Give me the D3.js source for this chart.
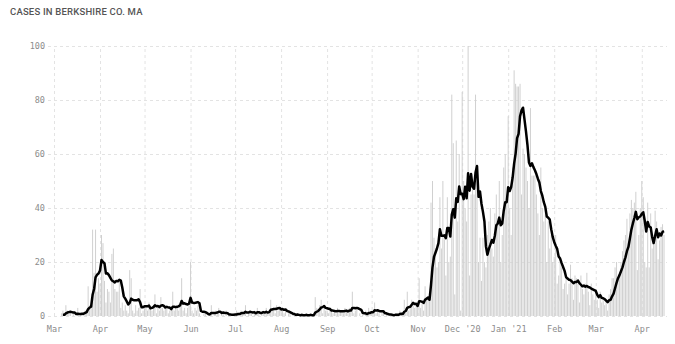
<!DOCTYPE html>
<html lang="en">
<head>
    <meta charset="UTF-8">
    <title>Cases in Berkshire Co. MA</title>
    <script src="https://d3js.org/d3.v7.min.js"></script>
    <style>
        body { margin: 0; background: #fff; }
        .title { font: 500 9.5px Roboto, sans-serif; fill: #555; letter-spacing: 0.2px; }
        .axis text { font: 8.5px "DejaVu Sans Mono", monospace; fill: #8c8c8c; }
        .axis path.domain { display: none; }
        .axis line { stroke: #e3e3e3; stroke-dasharray: 3,3; }
        .bar { fill: #d0d0d0; }
        .avg { fill: none; stroke: #000; stroke-width: 2.5; stroke-linejoin: round; }
    </style>
</head>
<body>
    <svg id="chart" width="675" height="344"></svg>

    <script>
        // daily new cases, one array per month
        const mar20 = [0,0,0,0,0,1,2, 0,4,2,1,1,0,1, 0,0,3,0,1,1,1, 2,2,11,4,3,32,16, 32,9,14];
        const apr20 = [12,30,27,13,5,10,9, 5,23,25,10,9,9,13, 3,5,2,4,2,1,17, 14,2,1,4,2,3,10, 1,2];
        const may20 = [3,4,2,5,3,2,4, 8,1,3,2,7,3,2, 4,3,1,2,3,9,2, 3,4,2,5,14,2,3, 1,3,4];
        const jun20 = [20,2,1,3,2,4,1, 0,0,1,2,0,1,0, 4,0,1,2,1,3,0, 1,1,0,2,0,0,0, 0,1];
        const jul20 = [1,2,1,0,2,1,1, 4,0,1,2,1,0,2, 1,3,1,0,1,2,1, 3,1,2,6,2,3,1, 4,2,3];
        const aug20 = [2,3,1,2,0,1,1, 0,1,0,0,1,0,0, 1,0,0,1,0,0,1, 0,0,7,3,2,4,6, 1,3,2];
        const sep20 = [2,1,3,2,1,2,1, 3,1,2,2,1,3,2, 1,3,2,9,1,2,3, 0,1,0,1,0,2,1, 3,1];
        const oct20 = [2,1,5,1,2,1,0, 2,1,0,1,0,0,0, 1,0,1,1,0,2,1, 0,6,3,9,2,3,6, 5,3,4];
        const nov20 = [3,14,3,5,2,11,7, 6,8,42,50,29,22,18, 20,44,25,50,30,15,44, 20,22,82,64,8,65,35, 60,2];
        const dec20 = [83,50,40,35,100,15,45, 50,45,82,52,20,29,13, 29,20,18,30,35,40,25, 22,38,45,35,50,20,30, 55,60,45];
        const jan21 = [74,40,30,55,91,86,85, 85,86,45,62,60,55,50, 40,77,52,52,52,45,38, 30,55,40,35,40,20,35, 25,30,20];
        const feb21 = [22,30,12,15,20,18,10, 12,14,8,12,19,14,6, 15,14,12,5,15,10,8, 12,16,9,4,12,8,6];
        const mar21 = [10,6,3,9,5,7,4, 6,2,8,10,14,14,18, 20,14,16,20,24,28,30, 36,25,38,43,40,42,46, 17,30,40];
        const apr21 = [50,44,20,18,42,18,38, 25,28,39,35,21,28,33, 34,30];

        const monthLabels = ["Mar", "Apr", "May", "Jun", "Jul", "Aug", "Sep", "Oct", "Nov", "Dec '20", "Jan '21", "Feb", "Mar", "Apr"];
        const yTicks = [0, 20, 40, 60, 80, 100];

        const cases = [].concat(mar20, apr20, may20, jun20, jul20, aug20, sep20, oct20,
                                nov20, dec20, jan21, feb21, mar21, apr21);
        const start = new Date(2020, 2, 1);
        const data = cases.map((v, i) => ({ date: d3.timeDay.offset(start, i), value: v }));

        // 7 day trailing average
        const avg = data.slice(6).map((d, i) => ({
            date: d.date,
            value: d3.mean(cases.slice(i, i + 7))
        }));

        const svg = d3.select("#chart");
        const margin = { top: 46, right: 8, bottom: 28, left: 54 };
        const height = 344 - margin.top - margin.bottom;

        const x = d3.scaleTime()
            .domain([start, d3.timeDay.offset(start, 413)])
            .range([margin.left, 667]);
        const y = d3.scaleLinear().domain([0, 100]).range([margin.top + height, margin.top]);

        svg.append("text")
            .attr("class", "title")
            .attr("x", 10)
            .attr("y", 15)
            .text("CASES IN BERKSHIRE CO. MA");

        // horizontal grid + y labels
        svg.append("g")
            .attr("class", "axis y")
            .attr("transform", "translate(48,0)")
            .call(d3.axisLeft(y).tickValues(yTicks).tickSize(-(667 - 48)).tickPadding(3));

        // vertical month grid + x labels
        const monthDates = monthLabels.map((m, i) => d3.timeMonth.offset(start, i));
        svg.append("g")
            .attr("class", "axis x")
            .attr("transform", `translate(0,${margin.top + height})`)
            .call(d3.axisBottom(x)
                .tickValues(monthDates)
                .tickSize(-height)
                .tickPadding(10)
                .tickFormat((d, i) => monthLabels[i]));

        // daily bars
        svg.append("g").selectAll("rect")
            .data(data)
            .join("rect")
            .attr("class", "bar")
            .attr("x", d => x(d.date) - 0.5)
            .attr("width", 1)
            .attr("y", d => y(d.value))
            .attr("height", d => y(0) - y(d.value));

        // average line
        svg.append("path")
            .datum(avg)
            .attr("class", "avg")
            .attr("d", d3.line().x(d => x(d.date)).y(d => y(d.value)));
    </script>
</body>
</html>
